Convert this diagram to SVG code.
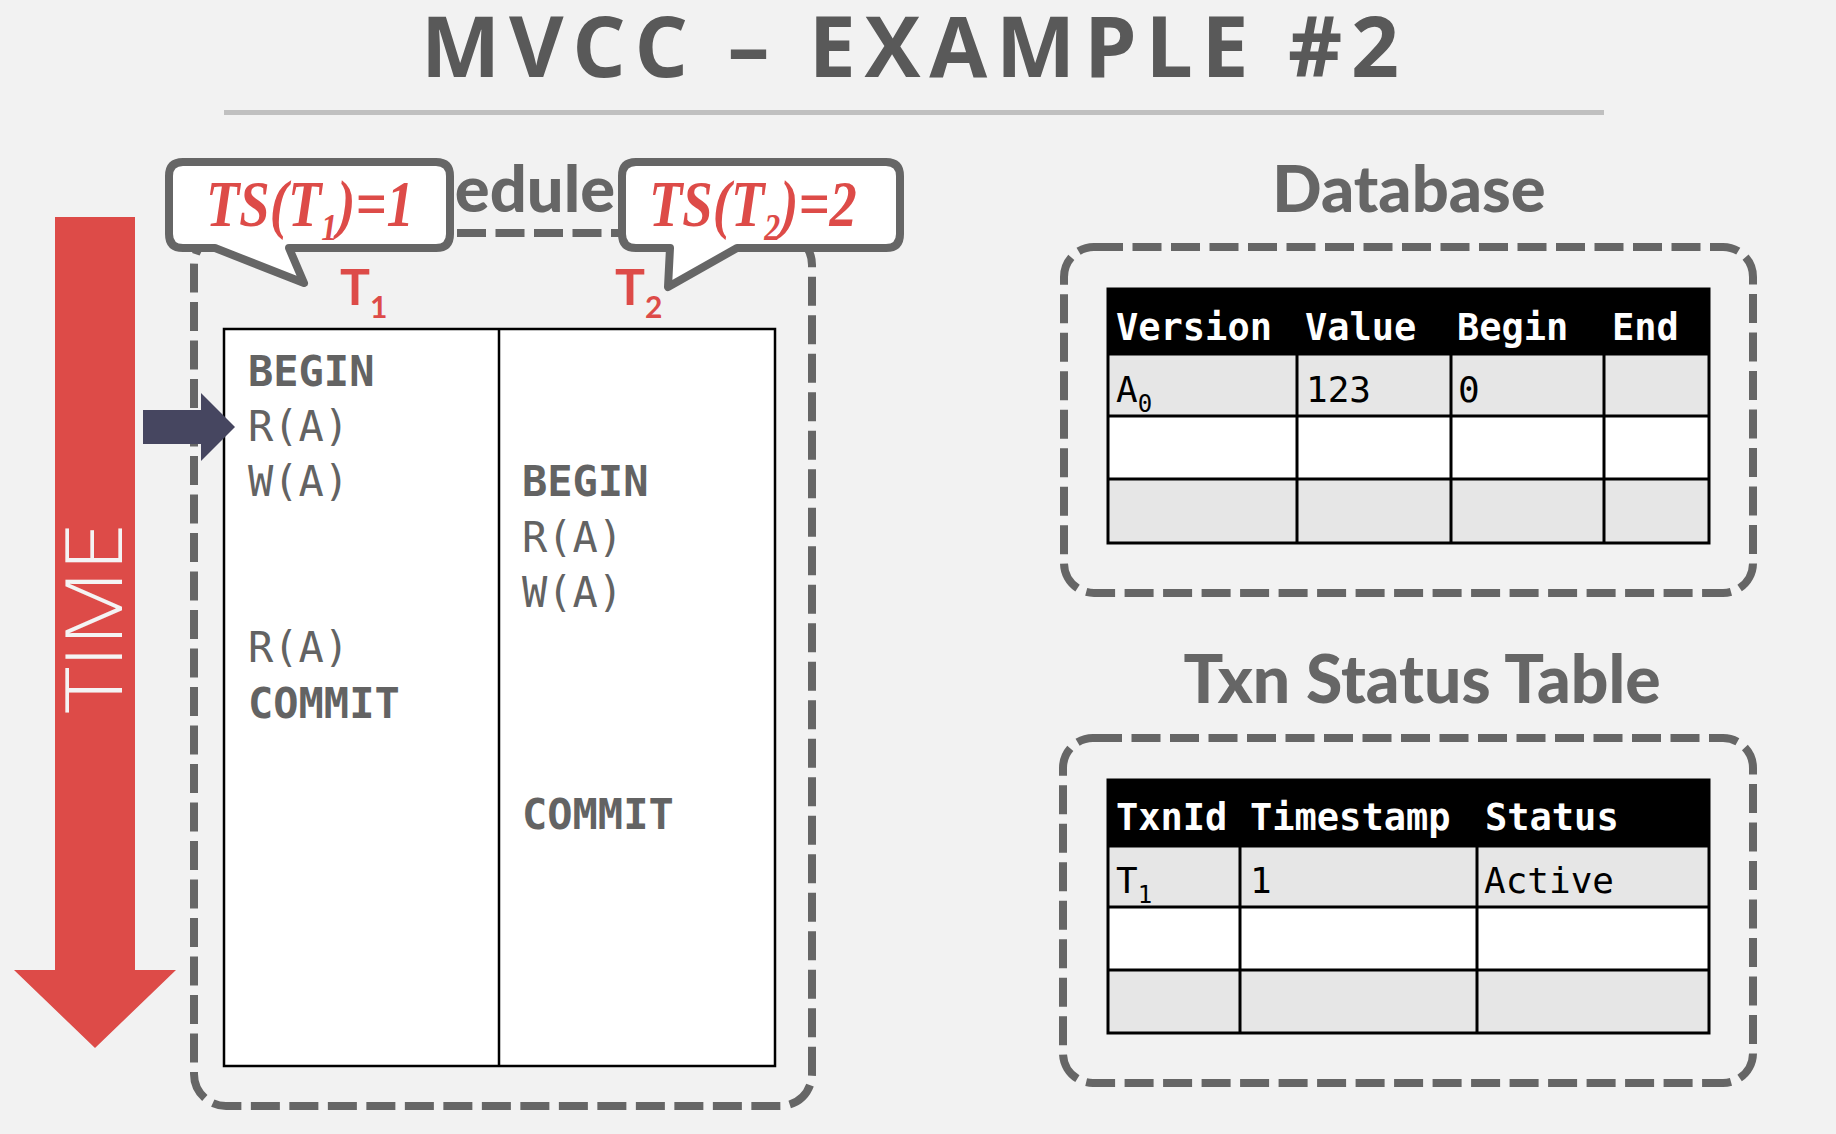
<svg xmlns="http://www.w3.org/2000/svg" width="1836" height="1134" viewBox="0 0 1836 1134">
  <style>
    .title { font-family: "Open Sans", "DejaVu Sans", sans-serif; font-weight: 700; fill: #595959; }
    .heading { font-family: Lato, "Open Sans", sans-serif; font-weight: 900; fill: #666666; }
    .dashbox { fill: none; stroke: #666666; stroke-width: 8; stroke-dasharray: 29 9.5; }
    .bubble { fill: #ffffff; stroke: #666666; stroke-width: 8; stroke-linejoin: round; }
    .ts { font-family: "Liberation Serif", "DejaVu Serif", serif; font-weight: 700; font-style: italic; fill: #dd4b48; }
    .tx { font-family: Lato, "Open Sans", sans-serif; font-weight: 700; fill: #dd4b48; }
    .op { font-family: "DejaVu Sans Mono", "Liberation Mono", monospace; font-size: 42px; fill: #636363; }
    .kw { font-weight: 700; }
    .grid { fill: none; stroke: #000000; stroke-width: 3; }
    .hdr { font-family: "DejaVu Sans Mono", "Liberation Mono", monospace; font-weight: 700; font-size: 37px; fill: #ffffff; }
    .cell { font-family: "DejaVu Sans Mono", "Liberation Mono", monospace; font-size: 36px; fill: #000000; }
    .shade { fill: #e6e6e6; }
  </style>

  <rect width="1836" height="1134" fill="#f2f2f2"/>

  <!-- page title -->
  <g id="title">
    <text class="title" x="421" y="77" font-size="84" textLength="978" lengthAdjust="spacing">MVCC – EXAMPLE #2</text>
    <line x1="224" y1="112.5" x2="1604" y2="112.5" stroke="#c0c0c0" stroke-width="5"/>
  </g>

  <!-- time axis -->
  <g id="time-arrow">
    <polygon points="55,217 135,217 135,970 176,970 95,1048 14,970 55,970" fill="#dd4b48"/>
    <text transform="translate(122,618) rotate(-90)" x="0" y="0" text-anchor="middle" font-family="'Open Sans', 'DejaVu Sans', sans-serif" font-weight="300" font-size="80" fill="#f4f4f4" textLength="190" lengthAdjust="spacingAndGlyphs">TIME</text>
  </g>

  <!-- schedule -->
  <g id="schedule">
    <text class="heading" x="615" y="212" font-size="65" text-anchor="end">Schedule</text>
    <rect class="dashbox" x="194" y="233" width="618" height="873" rx="32"/>
    <rect x="224" y="329" width="551" height="737" fill="#ffffff" stroke="#000000" stroke-width="2.5"/>
    <line x1="499" y1="329" x2="499" y2="1066" stroke="#000000" stroke-width="2.5"/>
    <text class="tx" x="340" y="305" font-size="50">T<tspan font-size="30" dy="13">1</tspan></text>
    <text class="tx" x="615" y="305" font-size="50">T<tspan font-size="30" dy="13">2</tspan></text>
  </g>

  <g id="t1-ops">
    <text class="op kw" x="248" y="386">BEGIN</text>
    <text class="op" x="248" y="441">R(A)</text>
    <text class="op" x="248" y="496">W(A)</text>
    <text class="op" x="248" y="662">R(A)</text>
    <text class="op kw" x="248" y="718">COMMIT</text>
  </g>

  <g id="t2-ops">
    <text class="op kw" x="522" y="496">BEGIN</text>
    <text class="op" x="522" y="552">R(A)</text>
    <text class="op" x="522" y="607">W(A)</text>
    <text class="op kw" x="522" y="829">COMMIT</text>
  </g>

  <!-- current step pointer -->
  <g id="pointer">
    <polygon points="143,410 201,410 201,393 235,427 201,461 201,444 143,444" fill="#464660"/>
  </g>

  <!-- timestamp callouts -->
  <g id="ts-t1">
    <path class="bubble" d="M183,162 H436 Q450,162 450,176 V234 Q450,248 436,248 H289 L304,283 L215,248 H183 Q169,248 169,234 V176 Q169,162 183,162 Z"/>
    <g transform="translate(206,226) scale(0.84,1)">
      <text class="ts" x="0" y="0" font-size="65">TS(T<tspan font-size="38" dy="14">1</tspan><tspan dy="-14">)=1</tspan></text>
    </g>
  </g>
  <g id="ts-t2">
    <path class="bubble" d="M636,162 H886 Q900,162 900,176 V234 Q900,248 886,248 H737 L668,287 L670,248 H636 Q622,248 622,234 V176 Q622,162 636,162 Z"/>
    <g transform="translate(649,226) scale(0.84,1)">
      <text class="ts" x="0" y="0" font-size="65">TS(T<tspan font-size="38" dy="14">2</tspan><tspan dy="-14">)=2</tspan></text>
    </g>
  </g>

  <!-- version store -->
  <g id="database">
    <text class="heading" x="1409" y="212" font-size="65" text-anchor="middle">Database</text>
    <rect class="dashbox" x="1064" y="247" width="689" height="346" rx="30"/>
    <rect x="1108" y="289" width="601" height="65" fill="#000000"/>
    <rect class="shade" x="1108" y="354" width="601" height="62"/>
    <rect x="1108" y="416" width="601" height="63" fill="#ffffff"/>
    <rect class="shade" x="1108" y="479" width="601" height="64"/>
    <g class="grid">
      <rect x="1108" y="289" width="601" height="254"/>
      <line x1="1108" y1="354" x2="1709" y2="354"/>
      <line x1="1108" y1="416" x2="1709" y2="416"/>
      <line x1="1108" y1="479" x2="1709" y2="479"/>
      <line x1="1297" y1="354" x2="1297" y2="543"/>
      <line x1="1451" y1="354" x2="1451" y2="543"/>
      <line x1="1604" y1="354" x2="1604" y2="543"/>
    </g>
    <text class="hdr" x="1116" y="340">Version</text>
    <text class="hdr" x="1305" y="340">Value</text>
    <text class="hdr" x="1457" y="340">Begin</text>
    <text class="hdr" x="1612" y="340">End</text>
    <text class="cell" x="1116" y="402">A<tspan font-size="24" dy="10">0</tspan></text>
    <text class="cell" x="1306" y="402">123</text>
    <text class="cell" x="1458" y="402">0</text>
  </g>

  <!-- transaction status -->
  <g id="txn-status">
    <text class="heading" x="1422" y="703" font-size="66" text-anchor="middle">Txn Status Table</text>
    <rect class="dashbox" x="1063" y="738" width="690" height="345" rx="30"/>
    <rect x="1108" y="780" width="601" height="66" fill="#000000"/>
    <rect class="shade" x="1108" y="846" width="601" height="61"/>
    <rect x="1108" y="907" width="601" height="63" fill="#ffffff"/>
    <rect class="shade" x="1108" y="970" width="601" height="63"/>
    <g class="grid">
      <rect x="1108" y="780" width="601" height="253"/>
      <line x1="1108" y1="846" x2="1709" y2="846"/>
      <line x1="1108" y1="907" x2="1709" y2="907"/>
      <line x1="1108" y1="970" x2="1709" y2="970"/>
      <line x1="1240" y1="846" x2="1240" y2="1033"/>
      <line x1="1477" y1="846" x2="1477" y2="1033"/>
    </g>
    <text class="hdr" x="1116" y="830">TxnId</text>
    <text class="hdr" x="1250" y="830">Timestamp</text>
    <text class="hdr" x="1485" y="830">Status</text>
    <text class="cell" x="1116" y="893">T<tspan font-size="24" dy="10">1</tspan></text>
    <text class="cell" x="1250" y="893">1</text>
    <text class="cell" x="1484" y="893">Active</text>
  </g>
</svg>
